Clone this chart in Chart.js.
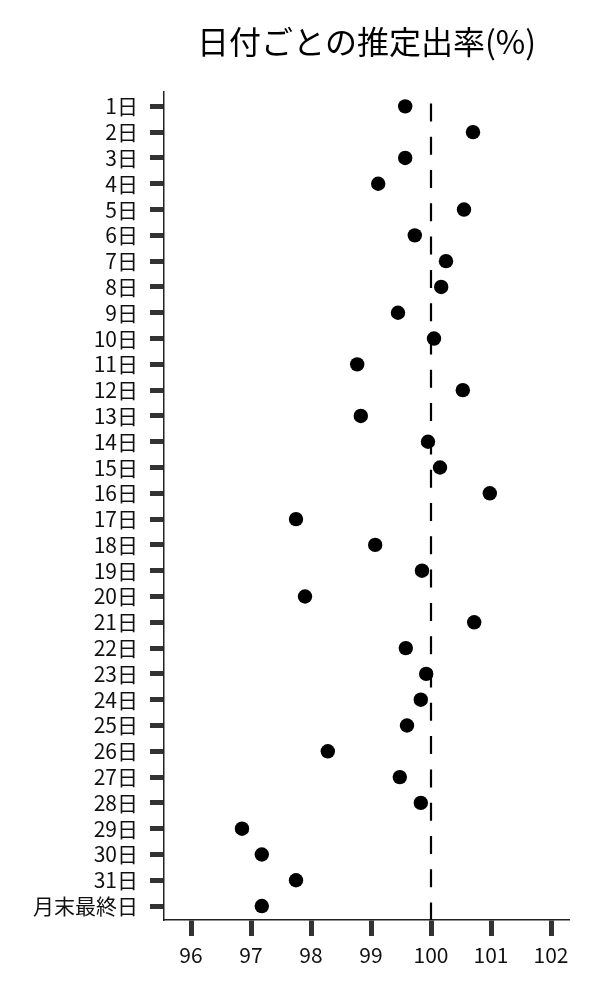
<!DOCTYPE html>
<html>
<head>
<meta charset="utf-8">
<script src="https://cdn.jsdelivr.net/npm/chart.js@4/dist/chart.umd.min.js"></script>
<style>
  body { margin: 0; background: #fff; }
  #wrap { width: 600px; height: 1000px; }
</style>
</head>
<body>
<div id="wrap"><canvas id="myChart"></canvas></div>
<script>
// y categories (top to bottom)
const days = ['1日', '2日', '3日', '4日', '5日', '6日', '7日', '8日', '9日', '10日',
    '11日', '12日', '13日', '14日', '15日', '16日', '17日', '18日', '19日', '20日',
    '21日', '22日', '23日', '24日', '25日', '26日', '27日', '28日', '29日', '30日',
    '31日', '月末最終日'];

// estimated rate (%) per day
const rates = [99.57, 100.70, 99.57, 99.12, 100.55, 99.73, 100.25, 100.17, 99.45, 100.05,
    98.77, 100.53, 98.83, 99.95, 100.15, 100.98, 97.75, 99.07, 99.85, 97.90,
    100.72, 99.58, 99.92, 99.83, 99.60, 98.28, 99.48, 99.83, 96.85, 97.18,
    97.75, 97.18];

const xTicks = [96, 97, 98, 99, 100, 101, 102];
const refLine = 100;

const fontFamily = "'Noto Sans CJK JP', 'Noto Sans', sans-serif";

// dashed vertical line at 100%
const refLinePlugin = {
    id: 'refLine',
    beforeDatasetsDraw(chart) {
        const ctx = chart.ctx;
        const area = chart.chartArea;
        const x = Math.round(chart.scales.x.getPixelForValue(refLine));
        ctx.save();
        ctx.strokeStyle = '#000';
        ctx.lineWidth = 2.2;
        ctx.setLineDash([18, 15.3]);
        ctx.lineDashOffset = 21.3;
        ctx.beginPath();
        ctx.moveTo(x, area.top);
        ctx.lineTo(x, area.bottom);
        ctx.stroke();
        ctx.restore();
    }
};

new Chart(document.getElementById('myChart'), {
    type: 'scatter',
    data: {
        datasets: [{
            data: days.map((d, i) => ({ x: rates[i], y: i })),
            backgroundColor: '#000',
            borderWidth: 0,
            pointRadius: 7.2,
            pointHoverRadius: 7.2
        }]
    },
    options: {
        responsive: true,
        maintainAspectRatio: false,
        animation: false,
        layout: { padding: { left: 0, right: 31, top: 0, bottom: 0 } },
        plugins: {
            legend: { display: false },
            tooltip: { enabled: false },
            title: {
                display: true,
                text: '日付ごとの推定出率(%)',
                fullSize: false,
                color: '#000',
                font: { family: fontFamily, size: 32, weight: 'normal' },
                padding: { top: 23, bottom: 30 }
            }
        },
        scales: {
            x: {
                type: 'linear',
                min: 95.55,
                max: 102.3,
                afterBuildTicks: (scale) => {
                    scale.ticks = xTicks.map(v => ({ value: v }));
                },
                afterFit: (scale) => { scale.height = 80; },
                grid: {
                    drawOnChartArea: false,
                    drawTicks: true,
                    tickLength: 16,
                    tickWidth: 5,
                    tickColor: '#333'
                },
                border: { display: true, color: '#222', width: 1.5 },
                ticks: {
                    color: '#111',
                    padding: 6,
                    maxRotation: 0,
                    font: { family: fontFamily, size: 21 }
                }
            },
            y: {
                type: 'linear',
                reverse: true,
                min: -0.58,
                max: 31.54,
                afterBuildTicks: (scale) => {
                    scale.ticks = days.map((d, i) => ({ value: i }));
                },
                afterFit: (scale) => { scale.width = 164; },
                grid: {
                    drawOnChartArea: false,
                    drawTicks: true,
                    tickLength: 14,
                    tickWidth: 5,
                    tickColor: '#333'
                },
                border: { display: true, color: '#222', width: 1.5 },
                ticks: {
                    color: '#111',
                    padding: 12,
                    autoSkip: false,
                    callback: (value) => days[value],
                    font: { family: fontFamily, size: 21 }
                }
            }
        }
    },
    plugins: [refLinePlugin]
});
</script>
</body>
</html>
